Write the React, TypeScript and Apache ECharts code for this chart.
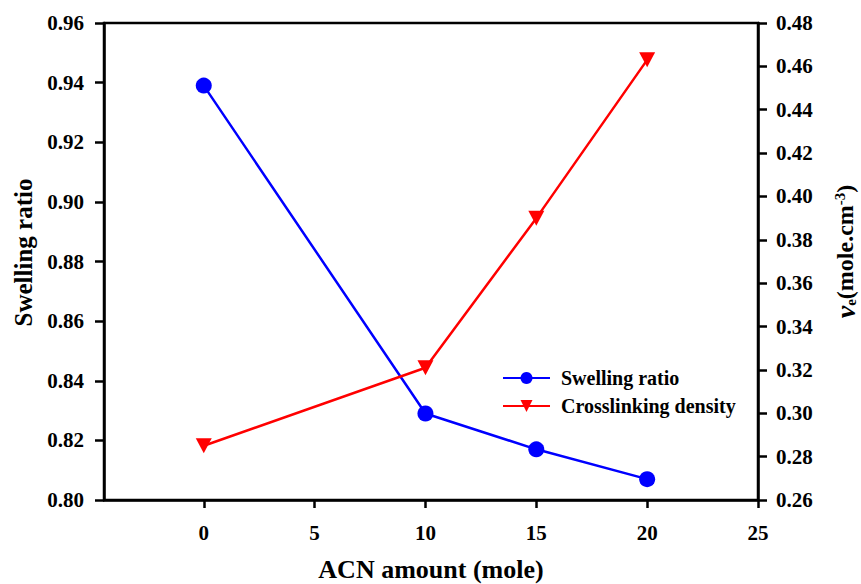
import React, { useEffect, useRef } from "react";
import * as echarts from "echarts";

const xValues = [0, 10, 15, 20];
const swellingRatio = [0.939, 0.829, 0.817, 0.807];
const crosslinkDensity = [0.285, 0.321, 0.39, 0.463];
const xTicks = [0, 5, 10, 15, 20, 25];

const FONT = "Liberation Serif";

export default function App() {
  const ref = useRef<HTMLDivElement>(null);
  useEffect(() => {
    document.body.style.margin = "0";
    const chart = echarts.init(ref.current!, null, { renderer: "svg" });
    const tickLabel = { fontFamily: FONT, fontWeight: "bold", fontSize: 21, color: "#000" };
    chart.setOption({
      animation: false,
      backgroundColor: "#fff",
      textStyle: { fontFamily: FONT },
      grid: {
        left: 104, right: 103, top: 23, bottom: 84,
        outerBoundsMode: "none",
        containLabel: false,
        show: true, borderColor: "#000", borderWidth: 2.5, backgroundColor: "transparent",
      },
      legend: {
        orient: "vertical",
        left: 497,
        top: 363,
        itemWidth: 47,
        itemHeight: 15,
        itemGap: 8,
        textStyle: { fontFamily: FONT, fontWeight: "bold", fontSize: 20, color: "#000", padding: [0, 0, 0, 6] },
        data: ["Swelling ratio", "Crosslinking density"],
      },
      xAxis: {
        type: "value",
        min: -4.5,
        max: 25,
        name: "ACN amount (mole)",
        nameLocation: "middle",
        nameGap: 56,
        nameTextStyle: { fontFamily: FONT, fontWeight: "bold", fontSize: 26, color: "#000" },
        axisLine: { show: true, onZero: false, lineStyle: { color: "#000", width: 2.5 } },
        axisTick: { show: true, inside: false, length: 8, customValues: xTicks, lineStyle: { color: "#000", width: 2.5 } },
        axisLabel: { ...tickLabel, margin: 22, customValues: xTicks },
        splitLine: { show: false },
      },
      yAxis: [
        {
          type: "value",
          min: 0.8,
          max: 0.96,
          interval: 0.02,
          name: "Swelling ratio",
          nameLocation: "middle",
          nameRotate: 90,
          nameGap: 60,
          nameTextStyle: { fontFamily: FONT, fontWeight: "bold", fontSize: 25, color: "#000", padding: [0, 0, 0, 18] },
          axisLine: { show: true, onZero: false, lineStyle: { color: "#000", width: 2.5 } },
          axisTick: { show: true, inside: false, length: 9, lineStyle: { color: "#000", width: 2.5 } },
          axisLabel: { ...tickLabel, margin: 20, formatter: (v: number) => v.toFixed(2) },
          splitLine: { show: false },
        },
        {
          type: "value",
          position: "right",
          min: 0.26,
          max: 0.48,
          interval: 0.02,
          name: "{nu|ν}{sub|e}{n|(mole.cm}{sup|-3}{n|)}",
          nameLocation: "middle",
          nameRotate: 90,
          nameGap: 74,
          nameTextStyle: {
            fontFamily: FONT, fontWeight: "bold", fontSize: 24, color: "#000", padding: [0, 0, 0, 20],
            rich: {
              nu: { fontFamily: FONT, fontStyle: "italic", fontWeight: "bold", fontSize: 28, color: "#000", lineHeight: 26, verticalAlign: "middle" },
              sub: { fontFamily: FONT, fontWeight: "bold", fontSize: 15, color: "#000", lineHeight: 26, verticalAlign: "bottom" },
              n: { fontFamily: FONT, fontWeight: "bold", fontSize: 24, color: "#000", lineHeight: 26, verticalAlign: "middle" },
              sup: { fontFamily: FONT, fontWeight: "bold", fontSize: 15, color: "#000", lineHeight: 26, verticalAlign: "top" },
            },
          },
          axisLine: { show: true, onZero: false, lineStyle: { color: "#000", width: 2.5 } },
          axisTick: { show: true, inside: false, length: 9, lineStyle: { color: "#000", width: 2.5 } },
          axisLabel: { ...tickLabel, margin: 18, formatter: (v: number) => v.toFixed(2) },
          splitLine: { show: false },
        },
      ],
      series: [
        {
          name: "Swelling ratio",
          type: "line",
          yAxisIndex: 0,
          data: xValues.map((x, i) => [x, swellingRatio[i]]),
          symbol: "circle",
          symbolSize: 16,
          color: "#0000ff",
          lineStyle: { color: "#0000ff", width: 2.5 },
          itemStyle: { color: "#0000ff" },
        },
        {
          name: "Crosslinking density",
          type: "line",
          yAxisIndex: 1,
          data: xValues.map((x, i) => [x, crosslinkDensity[i]]),
          symbol: "triangle",
          symbolRotate: 180,
          symbolSize: [16, 15],
          color: "#ff0000",
          lineStyle: { color: "#ff0000", width: 2.5 },
          itemStyle: { color: "#ff0000" },
        },
      ],
    });
    return () => chart.dispose();
  }, []);
  return <div ref={ref} style={{ width: 861, height: 584 }} />;
}
